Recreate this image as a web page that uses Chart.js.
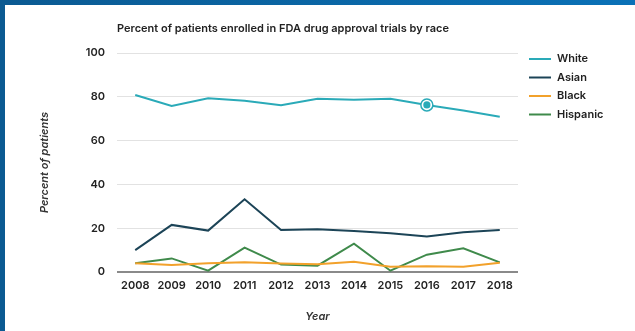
<!DOCTYPE html>
<html>
<head>
<meta charset="utf-8">
<script src="https://cdn.jsdelivr.net/npm/chart.js@4/dist/chart.umd.min.js"></script>
<style>
html, body { margin: 0; padding: 0; background: #fff; }
#wrap { position: relative; width: 635px; height: 331px; overflow: hidden; background: #fff; }
#chart { position: absolute; left: 0; top: 0; }
.frame-top { position: absolute; left: 0; top: 0; width: 635px; height: 5px; background: linear-gradient(90deg, #0b5a92, #0a71b7); }
.frame-left { position: absolute; left: 0; top: 0; width: 5px; height: 331px; background: #0b5a92; }
</style>
</head>
<body>
<div id="wrap">
  <canvas id="chart" width="635" height="331"></canvas>
  <div class="frame-top"></div>
  <div class="frame-left"></div>
</div>
<script>
// data
var years = ['2008', '2009', '2010', '2011', '2012', '2013', '2014', '2015', '2016', '2017', '2018'];
var white = [80.8, 75.8, 79.3, 78.2, 76.1, 79.1, 78.7, 79.1, 76.3, 73.7, 70.9];
var asian = [10.0, 21.5, 18.9, 33.2, 19.2, 19.5, 18.7, 17.7, 16.2, 18.1, 19.2];
var black = [4.0, 3.2, 4.0, 4.4, 3.9, 3.5, 4.7, 2.4, 2.6, 2.4, 4.2];
var hispanic = [4.0, 6.2, 0.6, 11.1, 3.4, 2.9, 12.9, 0.6, 7.9, 10.8, 4.4];
var yTicks = [0, 20, 40, 60, 80, 100];
var highlightIndex = 8; // 2016 on the White line

var FONT = 'Inter, Lato, sans-serif';
var INK = '#222';

var series = [
  { label: 'White', data: white, color: '#2aaab8' },
  { label: 'Asian', data: asian, color: '#1c4457' },
  { label: 'Black', data: black, color: '#f2a12b' },
  { label: 'Hispanic', data: hispanic, color: '#3f8a4b' }
];

// title, legend and the marked point
var extras = {
  id: 'extras',
  afterDatasetsDraw: function (chart) {
    var ctx = chart.ctx;
    var meta = chart.getDatasetMeta(0);
    var pt = meta.data[highlightIndex];
    ctx.save();
    ctx.beginPath();
    ctx.arc(pt.x, pt.y, 6, 0, Math.PI * 2);
    ctx.fillStyle = '#fff';
    ctx.fill();
    ctx.lineWidth = 1.5;
    ctx.strokeStyle = series[0].color;
    ctx.stroke();
    ctx.beginPath();
    ctx.arc(pt.x, pt.y, 3.6, 0, Math.PI * 2);
    ctx.fillStyle = series[0].color;
    ctx.fill();
    ctx.restore();
  },
  afterDraw: function (chart) {
    var ctx = chart.ctx;
    ctx.save();
    ctx.fillStyle = INK;
    ctx.font = '600 11px ' + FONT;
    ctx.textBaseline = 'middle';
    ctx.textAlign = 'left';
    ctx.fillText('Percent of patients enrolled in FDA drug approval trials by race', chart.chartArea.left, 29);

    var rows = [59, 77.5, 96, 114.5];
    series.forEach(function (s, i) {
      ctx.beginPath();
      ctx.moveTo(529, rows[i]);
      ctx.lineTo(551, rows[i]);
      ctx.lineWidth = 2;
      ctx.strokeStyle = s.color;
      ctx.stroke();
      ctx.fillStyle = INK;
      ctx.fillText(s.label, 557, rows[i]);
    });
    ctx.restore();
  }
};

var ctx = document.getElementById('chart').getContext('2d');

var chart = new Chart(ctx, {
  type: 'line',
  data: {
    labels: years,
    datasets: series.map(function (s) {
      return {
        label: s.label,
        data: s.data,
        borderColor: s.color,
        backgroundColor: s.color,
        borderWidth: 2,
        pointRadius: 0,
        tension: 0,
        fill: false
      };
    })
  },
  options: {
    responsive: false,
    animation: false,
    layout: { padding: { left: 34, right: 117, top: 53, bottom: 4 } },
    plugins: {
      legend: { display: false },
      title: { display: false },
      tooltip: { enabled: false }
    },
    scales: {
      x: {
        offset: true,
        grid: { display: false, drawTicks: false },
        border: { display: false },
        ticks: { color: INK, padding: 7, font: { family: FONT, size: 11, weight: '600' }, maxRotation: 0 },
        title: { display: true, text: 'Year', color: '#333', padding: { top: 4, bottom: 4 }, font: { family: FONT, size: 11, weight: '600', style: 'italic' } },
        afterFit: function (scale) { scale.height = 55; }
      },
      y: {
        min: 0,
        max: 100,
        afterBuildTicks: function (scale) {
          scale.ticks = yTicks.map(function (v) { return { value: v }; });
        },
        grid: {
          drawTicks: false,
          color: function (c) { return c.tick && c.tick.value === 0 ? '#8a8a8a' : '#e2e2e2'; },
          lineWidth: function (c) { return c.tick && c.tick.value === 0 ? 2 : 1; }
        },
        border: { display: false },
        ticks: { color: INK, padding: 12, font: { family: FONT, size: 11, weight: '600' } },
        title: { display: true, text: 'Percent of patients', color: '#333', padding: { top: 4, bottom: 4 }, font: { family: FONT, size: 11, weight: '600', style: 'italic' } },
        afterFit: function (scale) { scale.width = 83; }
      }
    }
  },
  plugins: [extras]
});
</script>
</body>
</html>
